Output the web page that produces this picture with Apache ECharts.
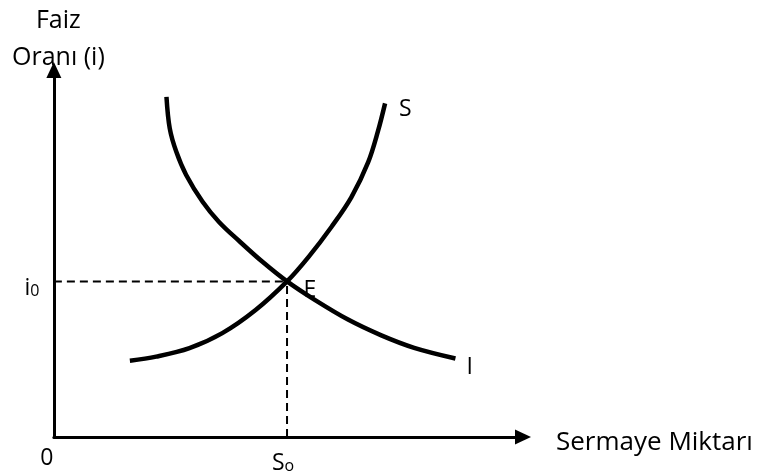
<!DOCTYPE html>
<html>
<head>
<meta charset="utf-8">
<script src="https://cdn.jsdelivr.net/npm/echarts@6.0.0/dist/echarts.min.js"></script>
<style>
  html, body { margin: 0; padding: 0; background: #fff; }
  #main { width: 758px; height: 476px; }
</style>
</head>
<body>
<div id="main"></div>
<script>
var chart = echarts.init(document.getElementById('main'));

// S egrisi (tasarruf) - noktalar
var sX = [16.2, 21.8, 28.9, 35.9, 43.0, 49.7, 54.3, 59.2, 63.4, 67.0, 69.1, 70.6];
var sY = [20.8, 21.9, 24.2, 28.3, 34.6, 42.4, 49.1, 57.3, 65.3, 74.9, 83.4, 90.9];
// I egrisi (yatirim)
var iX = [24.0, 24.7, 26.1, 28.2, 31.7, 35.2, 39.5, 44.4, 49.7, 55.7, 62.7, 69.8, 76.8, 85.6];
var iY = [92.7, 84.1, 77.7, 71.4, 64.1, 58.6, 53.4, 47.8, 42.4, 37.3, 32.0, 27.7, 24.3, 21.4];
// denge noktasi E ve orijin
var denge = [49.7, 42.4];
var orijin = [0, 0];

var yaziTipi = '"Open Sans", "DejaVu Sans", sans-serif';

function noktalar(xs, ys) {
  var out = [];
  for (var k = 0; k < xs.length; k++) {
    out.push([xs[k], ys[k]]);
  }
  return out;
}

var etiketSitil = { fontFamily: yaziTipi, fontSize: 23, color: '#000' };
var altSitil = { fontFamily: yaziTipi, fontSize: 16, color: '#000', padding: [7, 0, 0, 0] };

var option = {
  animation: false,
  backgroundColor: '#fff',
  textStyle: { fontFamily: yaziTipi, color: '#000' },
  grid: { left: 50, right: 235, top: 70, bottom: 39, containLabel: false },
  xAxis: {
    type: 'value',
    min: 0,
    max: 100,
    interval: 100,
    name: 'Sermaye Miktarı',
    nameLocation: 'end',
    nameGap: 33,
    nameTextStyle: {
      fontFamily: yaziTipi, fontSize: 26, color: '#000',
      verticalAlign: 'top', lineHeight: 12
    },
    axisLine: {
      lineStyle: { color: '#000', width: 3 },
      symbol: ['none', 'triangle'],
      symbolSize: [15, 16]
    },
    axisTick: { show: false },
    splitLine: { show: false },
    axisLabel: { show: false }
  },
  yAxis: {
    type: 'value',
    min: 0,
    max: 100,
    interval: 100,
    name: 'Faiz\nOranı (i)',
    nameLocation: 'end',
    nameGap: -6,
    nameTextStyle: {
      fontFamily: yaziTipi, fontSize: 25, color: '#000',
      lineHeight: 37, align: 'center', padding: [0, 0, 0, 9]
    },
    axisLine: {
      lineStyle: { color: '#000', width: 3 },
      symbol: ['none', 'triangle'],
      symbolSize: [15, 16]
    },
    axisTick: { show: false },
    splitLine: { show: false },
    axisLabel: { show: false }
  },
  series: [
    {
      name: 'S',
      type: 'line',
      smooth: 0.35,
      symbol: 'none',
      data: noktalar(sX, sY),
      lineStyle: { color: '#000', width: 4.5 },
      endLabel: {
        show: true, formatter: 'S', fontFamily: yaziTipi, fontSize: 23,
        color: '#000', distance: 14, offset: [0, 6]
      }
    },
    {
      name: 'I',
      type: 'line',
      smooth: 0.35,
      symbol: 'none',
      data: noktalar(iX, iY),
      lineStyle: { color: '#000', width: 4.5 },
      endLabel: {
        show: true, formatter: 'I', fontFamily: yaziTipi, fontSize: 23,
        color: '#000', distance: 11, offset: [0, 9]
      }
    },
    {
      // yatay kesikli cizgi (i0)
      type: 'line',
      symbol: 'none',
      data: [[0, denge[1]], denge],
      lineStyle: { color: '#000', width: 2, type: [8, 5] }
    },
    {
      // dikey kesikli cizgi (S0)
      type: 'line',
      symbol: 'none',
      data: [[denge[0], 0], denge],
      lineStyle: { color: '#000', width: 2, type: [8, 5] }
    },
    {
      // etiketler: i0, S0, E, 0
      type: 'scatter',
      symbol: 'circle',
      symbolSize: 1,
      itemStyle: { color: 'rgba(0,0,0,0)', opacity: 1 },
      silent: true,
      data: [
        { value: [0, denge[1]], label: Object.assign({
          show: true, position: 'left', distance: 14, offset: [0, 7],
          formatter: 'i{alt|0}', rich: { alt: altSitil }
        }, etiketSitil) },
        { value: [denge[0], 0], label: Object.assign({
          show: true, position: 'bottom', distance: 12, offset: [-4, 2],
          formatter: 'S{alt|o}', rich: { alt: altSitil }
        }, etiketSitil) },
        { value: denge, label: Object.assign({
          show: true, position: 'right', distance: 16, offset: [0, 9],
          formatter: 'E'
        }, etiketSitil) },
        { value: orijin, label: Object.assign({
          show: true, position: 'bottom', distance: 9, offset: [-7, 0],
          formatter: '0'
        }, etiketSitil) }
      ]
    }
  ]
};

chart.setOption(option);
</script>
</body>
</html>
